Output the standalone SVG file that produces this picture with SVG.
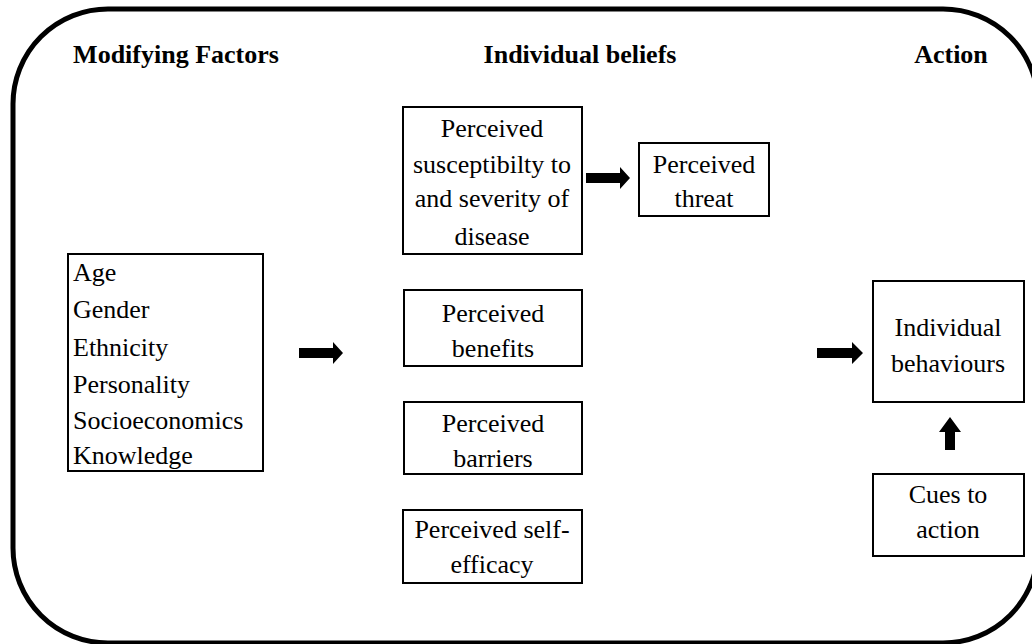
<svg xmlns="http://www.w3.org/2000/svg" width="1032" height="644" viewBox="0 0 1032 644" font-family="Liberation Serif, DejaVu Serif, Noto Serif, Times New Roman, serif">
<defs>
<style>
.frame{fill:none;stroke:#000;stroke-width:5}
.box{fill:#fff;stroke:#000;stroke-width:2}
.t{font-size:26px;fill:#000}
.c{text-anchor:middle}
.h{font-size:26px;font-weight:bold;fill:#000;text-anchor:middle}
.arr{fill:#000}
</style>
</defs>
<rect width="1032" height="644" fill="#fff"/>
<rect class="frame" x="13" y="9" width="1025" height="634" rx="95" ry="95"/>
<g id="headers">
<text class="h" x="176" y="63">Modifying Factors</text>
<text class="h" x="580" y="63">Individual beliefs</text>
<text class="h" x="951" y="63">Action</text>
</g>
<g id="modifying-factors">
<rect class="box" x="68" y="254" width="195" height="217"/>
<text class="t" x="73" y="281">Age</text>
<text class="t" x="73" y="318">Gender</text>
<text class="t" x="73" y="356">Ethnicity</text>
<text class="t" x="73" y="393">Personality</text>
<text class="t" x="73" y="429">Socioeconomics</text>
<text class="t" x="73" y="464">Knowledge</text>
</g>
<g id="susceptibility">
<rect class="box" x="403" y="107" width="179" height="147"/>
<text class="t c" x="492" y="137">Perceived</text>
<text class="t c" x="492" y="173">susceptibilty to</text>
<text class="t c" x="492" y="207">and severity of</text>
<text class="t c" x="492" y="245">disease</text>
</g>
<g id="threat">
<rect class="box" x="639" y="143" width="130" height="73"/>
<text class="t c" x="704" y="173">Perceived</text>
<text class="t c" x="704" y="207">threat</text>
</g>
<g id="benefits">
<rect class="box" x="404" y="290" width="178" height="76"/>
<text class="t c" x="493" y="322">Perceived</text>
<text class="t c" x="493" y="357">benefits</text>
</g>
<g id="barriers">
<rect class="box" x="404" y="402" width="178" height="72"/>
<text class="t c" x="493" y="432">Perceived</text>
<text class="t c" x="493" y="467">barriers</text>
</g>
<g id="self-efficacy">
<rect class="box" x="403" y="510" width="179" height="73"/>
<text class="t c" x="492" y="538">Perceived self-</text>
<text class="t c" x="492" y="573">efficacy</text>
</g>
<g id="behaviours">
<rect class="box" x="873" y="281" width="151" height="121"/>
<text class="t c" x="948" y="336">Individual</text>
<text class="t c" x="948" y="372">behaviours</text>
</g>
<g id="cues">
<rect class="box" x="873" y="474" width="151" height="82"/>
<text class="t c" x="948" y="503">Cues to</text>
<text class="t c" x="948" y="538">action</text>
</g>
<g id="connectors">
<polygon class="arr" points="299,348 333,348 333,342 343,353 333,364 333,358 299,358"/>
<polygon class="arr" points="586,173 620,173 620,167 630,178 620,189 620,183 586,183"/>
<polygon class="arr" points="817,348 852,348 852,342 863,353 852,364 852,358 817,358"/>
<polygon class="arr" points="945,450 945,432 939,432 950,417 961,432 955,432 955,450"/>
</g>
</svg>
